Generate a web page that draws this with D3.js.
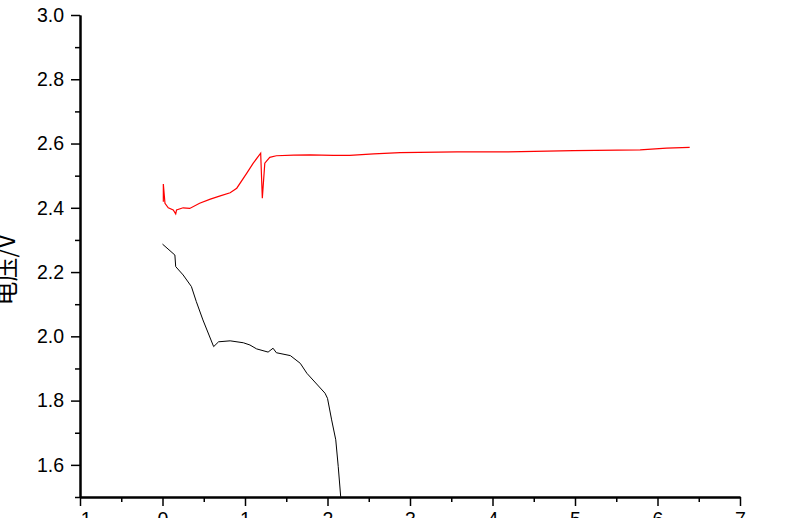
<!DOCTYPE html>
<html><head><meta charset="utf-8">
<script src="https://cdn.jsdelivr.net/npm/d3@7"></script>
<style>body{margin:0;background:#fff;}svg{display:block;}</style>
</head><body>
<svg id="c" width="800" height="518"></svg>
<script>
const xTicks = [-1,0,1,2,3,4,5,6,7];
const yTicks = [1.6,1.8,2.0,2.2,2.4,2.6,2.8,3.0];
const yLabel = "电压/V";

const redX = [0.01,0.01,0.03,0.07,0.13,0.16,0.17,0.25,0.33,0.45,0.58,0.70,0.82,0.90,1.02,1.10,1.19,1.21,1.24,1.30,1.38,1.59,1.79,2.07,2.27,2.56,2.88,3.57,4.17,4.98,5.79,6.11,6.39];
const redY = [2.419,2.474,2.414,2.400,2.393,2.381,2.393,2.400,2.398,2.414,2.427,2.437,2.447,2.461,2.507,2.539,2.570,2.430,2.539,2.557,2.562,2.564,2.565,2.563,2.563,2.568,2.572,2.574,2.574,2.578,2.580,2.586,2.588];

const blackX = [0.00,0.15,0.16,0.25,0.35,0.41,0.49,0.62,0.68,0.82,0.98,1.06,1.14,1.28,1.34,1.38,1.55,1.67,1.75,1.97,2.00,2.05,2.10,2.13,2.16,2.17];
const blackY = [2.287,2.253,2.217,2.191,2.155,2.108,2.051,1.968,1.983,1.986,1.980,1.973,1.961,1.951,1.963,1.949,1.940,1.916,1.885,1.823,1.807,1.740,1.678,1.595,1.501,1.48];

const svg = d3.select("#c");
const x = d3.scaleLinear().domain([-1,7]).range([80,740]);
const y = d3.scaleLinear().domain([1.5,3.0]).range([497,15]);
const font = "'Liberation Sans', Arial, sans-serif";

svg.append("defs").append("clipPath").attr("id","clip")
  .append("rect").attr("x",80).attr("y",0).attr("width",720).attr("height",497);

const line = d3.line().x(d=>x(d[0])).y(d=>y(d[1]));
const g = svg.append("g").attr("clip-path","url(#clip)");
g.append("path").datum(blackX.map((v,i)=>[v,blackY[i]]))
  .attr("d",line).attr("fill","none").attr("stroke","#000").attr("stroke-width",1);
g.append("path").datum(redX.map((v,i)=>[v,redY[i]]))
  .attr("d",line).attr("fill","none").attr("stroke","#ff0000").attr("stroke-width",1.2);

const yMinor = d3.range(1.5,3.0001,0.1).map(v=>+v.toFixed(2)).filter(v=>!yTicks.some(t=>Math.abs(t-v)<1e-6));
const xMinor = d3.range(-0.5,7,1);

const yAxis = svg.append("g").attr("transform","translate(80,0)")
  .call(d3.axisLeft(y).tickValues(yTicks).tickFormat(d3.format(".1f")).tickSize(9).tickPadding(7).tickSizeOuter(0));
const yAxisMinor = svg.append("g").attr("transform","translate(80,0)")
  .call(d3.axisLeft(y).tickValues(yMinor).tickFormat("").tickSize(5).tickSizeOuter(0));
const xAxis = svg.append("g").attr("transform","translate(0,497)")
  .call(d3.axisBottom(x).tickValues(xTicks).tickFormat(d3.format("d")).tickSize(9).tickPadding(6).tickSizeOuter(0));
const xAxisMinor = svg.append("g").attr("transform","translate(0,497)")
  .call(d3.axisBottom(x).tickValues(xMinor).tickFormat("").tickSize(5).tickSizeOuter(0));

[yAxis,yAxisMinor,xAxis,xAxisMinor].forEach(a=>{
  a.selectAll("path.domain").attr("stroke","#000").attr("stroke-width",2);
  a.selectAll(".tick line").attr("stroke","#000").attr("stroke-width",1.5);
  a.selectAll("text").attr("font-family",font).attr("font-size",19.5).attr("fill","#000");
});

svg.append("text").attr("transform","translate(15,270) rotate(-90)")
  .attr("text-anchor","middle").attr("font-family","'Noto Sans CJK SC', sans-serif")
  .attr("font-size",24).attr("fill","#000").text(yLabel);
</script>
</body></html>
